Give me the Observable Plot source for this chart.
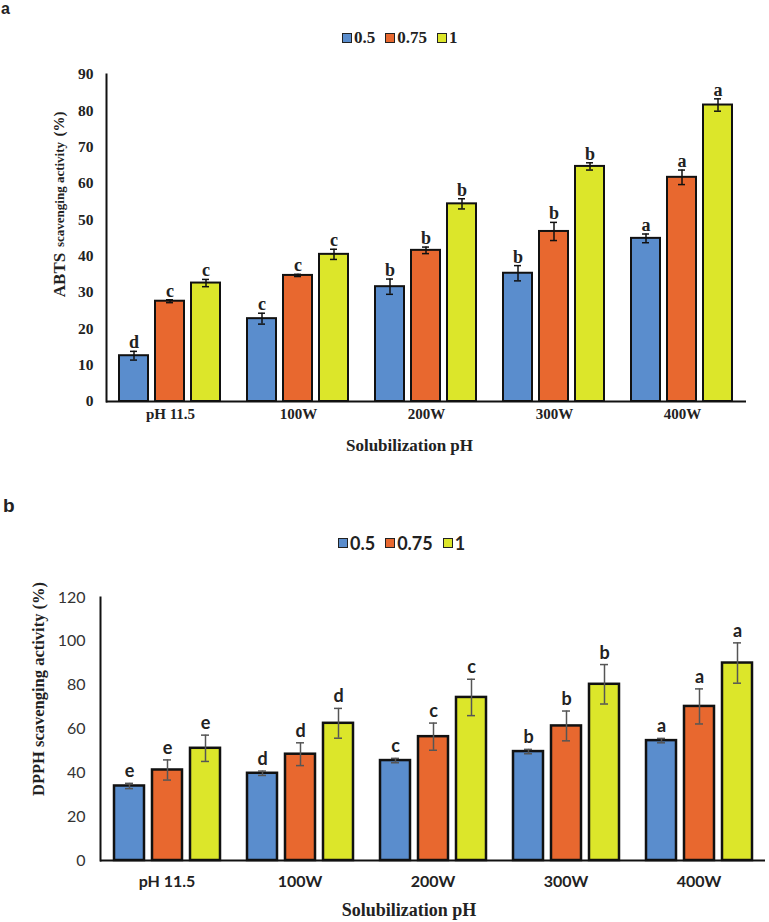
<!DOCTYPE html>
<html><head><meta charset="utf-8">
<script src="https://cdn.jsdelivr.net/npm/d3@7"></script>
<script src="https://cdn.jsdelivr.net/npm/@observablehq/plot@0.6"></script>
<style>
body{margin:0;background:#fff;}
#wrap{position:relative;width:769px;height:922px;overflow:hidden;background:#fff;}
.leg{position:absolute;display:flex;align-items:center;white-space:nowrap;color:#222;}
.sw{display:inline-block;width:8px;height:8px;border:1.5px solid #222;margin-right:2px;}
.panel{position:absolute;font-family:"Liberation Sans",Arial,sans-serif;font-weight:bold;color:#222;line-height:1;}
</style></head><body><div id="wrap"></div>
<script>
const groups = ["pH 11.5", "100W", "200W", "300W", "400W"];
const series = ["0.5", "0.75", "1"];
const colors = ["#5A8DCD", "#E8682F", "#DCE62A"];

// Panel a: ABTS
const abts05 = [12.6, 22.8, 31.6, 35.3, 44.9];
const abts075 = [27.6, 34.7, 41.6, 46.8, 61.7];
const abts1 = [32.6, 40.5, 54.4, 64.7, 81.6];
const abtsErr05 = [1.2, 1.5, 2.1, 2.1, 1.2];
const abtsErr075 = [0.4, 0.3, 0.9, 2.5, 2.0];
const abtsErr1 = [1.0, 1.4, 1.4, 1.0, 1.7];
const abtsLet05 = ["d", "c", "b", "b", "a"];
const abtsLet075 = ["c", "c", "b", "b", "a"];
const abtsLet1 = ["c", "c", "b", "b", "a"];
const abtsTicks = [0, 10, 20, 30, 40, 50, 60, 70, 80, 90];
const abtsLabelParts = ["ABTS", "scavenging activity", "(%)"];

// Panel b: DPPH
const dpph05 = [34.0, 39.8, 45.6, 49.7, 54.7];
const dpph075 = [41.3, 48.5, 56.5, 61.4, 70.3];
const dpph1 = [51.2, 62.6, 74.4, 80.4, 90.1];
const dpphErr05 = [1.2, 1.0, 1.0, 1.0, 1.0];
const dpphErr075 = [4.6, 5.2, 6.2, 6.8, 8.0];
const dpphErr1 = [6.0, 6.8, 8.3, 9.0, 9.2];
const dpphLet05 = ["e", "d", "c", "b", "a"];
const dpphLet075 = ["e", "d", "c", "b", "a"];
const dpphLet1 = ["e", "d", "c", "b", "a"];
const dpphTicks = [0, 20, 40, 60, 80, 100, 120];
const dpphLabelParts = ["DPPH scavenging activity (%)"];

const xTitle = "Solubilization pH";

function rowsOf(vals, errs, lets) {
  const out = [];
  groups.forEach((g, i) => series.forEach((s, j) => out.push({g, s, v: vals[j][i], e: errs[j][i], l: lets[j][i]})));
  return out;
}

function build(rows, c) {
  const ylabelMarks = c.ylabel.map((t, k) =>
    Plot.text([{g: groups[0]}], {fx: "g", frameAnchor: "left", textAnchor: "middle", lineAnchor: "middle",
      text: () => t, rotate: -90, dx: c.ylx, dy: c.yly[k], fontSize: c.ylSize[k], fontWeight: "bold",
      fontFamily: "Liberation Serif", fill: "#222"}));
  return Plot.plot({
    width: 769, height: c.height,
    marginTop: c.mt, marginBottom: c.mb, marginLeft: c.ml, marginRight: c.mr,
    style: {background: "white", overflow: "visible", fontFamily: c.tickFont, color: "#222"},
    fx: {domain: groups, padding: 0},
    x: {domain: series, paddingInner: c.pi, paddingOuter: c.po, axis: null},
    y: {domain: c.ydom},
    color: {domain: series, range: colors},
    marks: [
      Plot.barY(rows, {fx: "g", x: "s", y: "v", fill: "s", stroke: "#111", strokeWidth: c.bw}),
      Plot.ruleX(rows, {fx: "g", x: "s", y1: d => d.v - d.e, y2: d => d.v + d.e, stroke: c.ec, strokeWidth: 1.5}),
      Plot.tickY(rows, {fx: "g", x: "s", y: d => d.v + d.e, stroke: c.ec, strokeWidth: 1.5, insetLeft: c.cap, insetRight: c.cap}),
      Plot.tickY(rows, {fx: "g", x: "s", y: d => d.v - d.e, stroke: c.ec, strokeWidth: 1.5, insetLeft: c.cap, insetRight: c.cap}),
      Plot.text(rows, {fx: "g", x: "s", y: d => d.v + d.e, text: "l", lineAnchor: "bottom", dy: c.ldy,
        fontSize: c.letSize, fontWeight: "bold", fontFamily: c.letFont, fill: "#222"}),
      Plot.ruleY([0], {stroke: "#111", strokeWidth: 2}),
      Plot.frame({anchor: "left", facetAnchor: "left", stroke: "#111", strokeWidth: 2}),
      Plot.axisY({ticks: c.ticks, tickSize: 0, tickPadding: c.ytp, fontSize: c.ytSize, fontWeight: c.ytWeight,
        fontFamily: c.tickFont, fill: c.ytFill, label: null}),
      Plot.axisFx({anchor: "bottom", tickSize: 0, tickPadding: c.xtp, fontSize: c.xtSize, fontWeight: "bold",
        fontFamily: c.xtFont, label: null}),
      ...ylabelMarks,
      Plot.text([{g: groups[2]}], {fx: "g", frameAnchor: "bottom", textAnchor: "middle", lineAnchor: "middle",
        text: () => xTitle, dx: c.xlx, dy: c.xly, fontSize: c.xlSize, fontWeight: "bold",
        fontFamily: "Liberation Serif", fill: "#222"})
    ]
  });
}

const wrap = document.getElementById("wrap");
function place(el, top) { el.style.position = "absolute"; el.style.left = "0px"; el.style.top = top + "px"; wrap.appendChild(el); }

function legend(top, left, font, size, gaps) {
  const d = document.createElement("div");
  d.className = "leg";
  d.style.top = top + "px"; d.style.left = left + "px";
  d.style.fontFamily = font; d.style.fontSize = size + "px"; d.style.fontWeight = "bold";
  series.forEach((s, i) => {
    const item = document.createElement("span");
    item.style.display = "inline-flex"; item.style.alignItems = "center";
    item.style.marginRight = gaps + "px";
    const sw = document.createElement("span"); sw.className = "sw"; sw.style.background = colors[i];
    item.appendChild(sw); item.appendChild(document.createTextNode(s));
    d.appendChild(item);
  });
  wrap.appendChild(d);
}
function panel(txt, top, left, size) {
  const p = document.createElement("div"); p.className = "panel"; p.textContent = txt;
  p.style.top = top + "px"; p.style.left = left + "px"; p.style.fontSize = size + "px";
  wrap.appendChild(p);
}

panel("a", 1, 1, 16);
legend(28, 342, "Liberation Serif", 17, 10);
const chartA = build(rowsOf([abts05, abts075, abts1], [abtsErr05, abtsErr075, abtsErr1], [abtsLet05, abtsLet075, abtsLet1]), {
  height: 415, mt: 19, mb: 69, ml: 104, mr: 22, pi: 0.19, po: 0.33, ydom: [0, 90], ticks: abtsTicks,
  bw: 2, ec: "#111", cap: 11, ldy: -3, letSize: 18, letFont: "Liberation Serif",
  tickFont: "Liberation Serif", ytp: 13, ytSize: 15.5, ytWeight: "bold", ytFill: "#222", xtp: 7, xtSize: 15, xtFont: "Liberation Serif",
  ylabel: abtsLabelParts, ylx: -47, yly: [37, -43.5, -114], ylSize: [17, 13, 15],
  xlx: -17, xly: 44, xlSize: 17
});
place(chartA, 55);

panel("b", 496, 3, 19);
legend(532, 338, "Lato", 18, 10);
const chartB = build(rowsOf([dpph05, dpph075, dpph1], [dpphErr05, dpphErr075, dpphErr1], [dpphLet05, dpphLet075, dpphLet1]), {
  height: 352, mt: 27, mb: 62, ml: 98, mr: 3, pi: 0.22, po: 0.33, ydom: [0, 120], ticks: dpphTicks,
  bw: 2.5, ec: "#555", cap: 11, ldy: -6, letSize: 18, letFont: "Lato",
  tickFont: "Lato", ytp: 15, ytSize: 16, ytWeight: "normal", ytFill: "#333", xtp: 15, xtSize: 16, xtFont: "Lato",
  ylabel: dpphLabelParts, ylx: -62, yly: [-40], ylSize: [16.5],
  xlx: -24, xly: 50, xlSize: 18
});
place(chartB, 570);
</script></body></html>
